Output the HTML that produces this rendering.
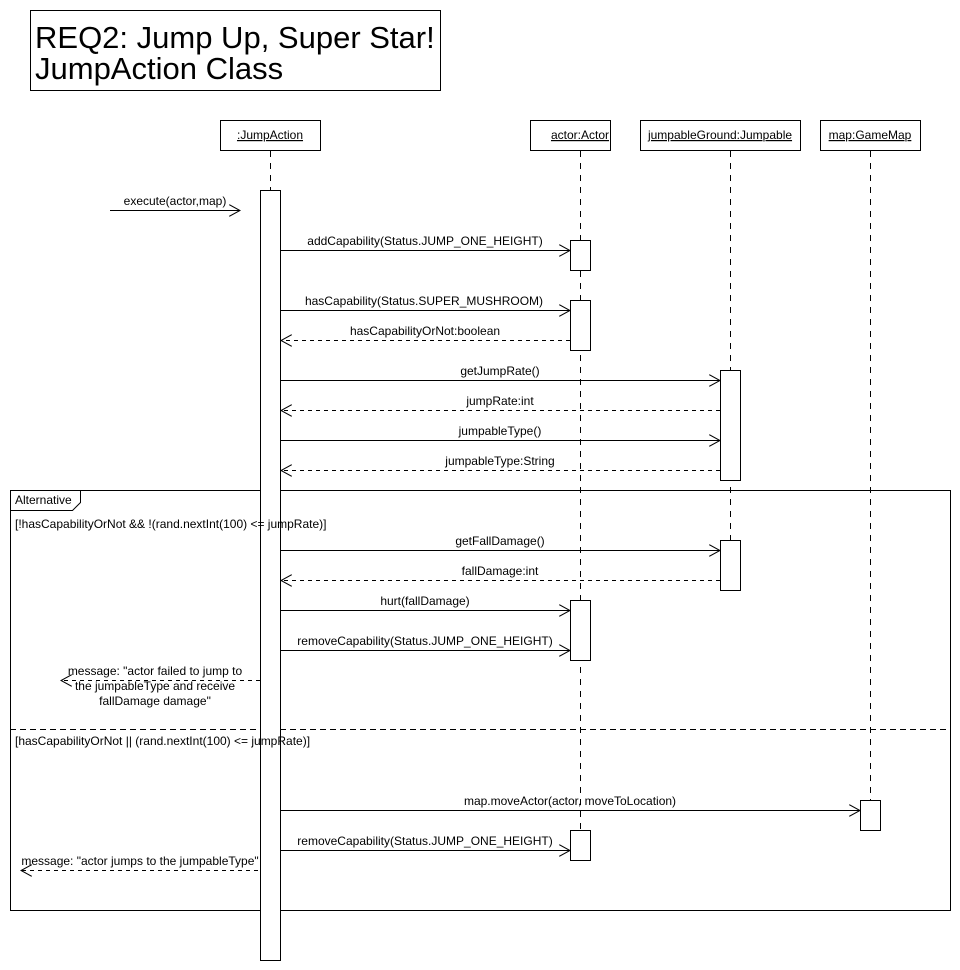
<!DOCTYPE html>
<html><head><style>body{margin:0;background:#fff}svg{display:block}text{font-family:"Liberation Sans",sans-serif;font-size:12px;fill:#000}</style></head><body>
<svg width="960" height="970" xmlns="http://www.w3.org/2000/svg">
<defs>
<marker id="o" markerWidth="12" markerHeight="12" refX="11" refY="6" orient="auto" markerUnits="userSpaceOnUse"><path d="M0,0 L11,6 L0,12" fill="none" stroke="#000"/></marker>
</defs>
<rect x="30.5" y="10.5" width="410" height="80" fill="#fff" stroke="#000"/>
<text x="35" y="48" style="font-size:31px">REQ2: Jump Up, Super Star!</text>
<text x="35" y="79" style="font-size:31px">JumpAction Class</text>
<g stroke="#000" fill="#fff">
<rect x="220.5" y="120.5" width="100" height="30"/>
<rect x="530.5" y="120.5" width="80" height="30"/>
<rect x="640.5" y="120.5" width="160" height="30"/>
<rect x="820.5" y="120.5" width="100" height="30"/>
</g>
<g stroke="#000" stroke-dasharray="6,6">
<line x1="270.5" y1="151" x2="270.5" y2="190"/>
<line x1="580.5" y1="151" x2="580.5" y2="860"/>
<line x1="730.5" y1="151" x2="730.5" y2="590"/>
<line x1="870.5" y1="151" x2="870.5" y2="800"/>
</g>
<g text-anchor="middle" text-decoration="underline">
<text x="270" y="139">:JumpAction</text>
<text x="580" y="139">actor:Actor</text>
<text x="720" y="139">jumpableGround:Jumpable</text>
<text x="870" y="139">map:GameMap</text>
</g>
<rect x="10.5" y="490.5" width="940" height="420" fill="none" stroke="#000"/>
<path d="M10.5,510.5 H72.5 L80.5,502.5 V490.5" fill="none" stroke="#000"/>
<line x1="10" y1="729.5" x2="950" y2="729.5" stroke="#000" stroke-dasharray="6,4"/>
<g stroke="#000" fill="#fff">
<rect x="260.5" y="190.5" width="20" height="770"/>
<rect x="570.5" y="240.5" width="20" height="30"/>
<rect x="570.5" y="300.5" width="20" height="50"/>
<rect x="570.5" y="600.5" width="20" height="60"/>
<rect x="570.5" y="830.5" width="20" height="30"/>
<rect x="720.5" y="370.5" width="20" height="110"/>
<rect x="720.5" y="540.5" width="20" height="50"/>
<rect x="860.5" y="800.5" width="20" height="30"/>
</g>
<text x="15" y="504">Alternative</text>
<text x="15" y="528">[!hasCapabilityOrNot &amp;&amp; !(rand.nextInt(100) &lt;= jumpRate)]</text>
<text x="15" y="745">[hasCapabilityOrNot || (rand.nextInt(100) &lt;= jumpRate)]</text>
<g stroke="#000" fill="none" marker-end="url(#o)">
<line x1="110" y1="210.5" x2="240" y2="210.5"/>
<line x1="281" y1="250.5" x2="570" y2="250.5"/>
<line x1="281" y1="310.5" x2="570" y2="310.5"/>
<line x1="570" y1="340.5" x2="281" y2="340.5" stroke-dasharray="4,4"/>
<line x1="281" y1="380.5" x2="720" y2="380.5"/>
<line x1="720" y1="410.5" x2="281" y2="410.5" stroke-dasharray="4,4"/>
<line x1="281" y1="440.5" x2="720" y2="440.5"/>
<line x1="720" y1="470.5" x2="281" y2="470.5" stroke-dasharray="4,4"/>
<line x1="281" y1="550.5" x2="720" y2="550.5"/>
<line x1="720" y1="580.5" x2="281" y2="580.5" stroke-dasharray="4,4"/>
<line x1="281" y1="610.5" x2="570" y2="610.5"/>
<line x1="281" y1="650.5" x2="570" y2="650.5"/>
<line x1="260" y1="680.5" x2="61" y2="680.5" stroke-dasharray="4,4"/>
<line x1="281" y1="810.5" x2="860" y2="810.5"/>
<line x1="281" y1="850.5" x2="570" y2="850.5"/>
<line x1="258" y1="870.5" x2="21" y2="870.5" stroke-dasharray="4,4"/>
</g>
<g text-anchor="middle">
<text x="175" y="205">execute(actor,map)</text>
<text x="425" y="245">addCapability(Status.JUMP_ONE_HEIGHT)</text>
<text x="424" y="305">hasCapability(Status.SUPER_MUSHROOM)</text>
<text x="425" y="335">hasCapabilityOrNot:boolean</text>
<text x="500" y="375">getJumpRate()</text>
<text x="500" y="405">jumpRate:int</text>
<text x="500" y="435">jumpableType()</text>
<text x="500" y="465">jumpableType:String</text>
<text x="500" y="545">getFallDamage()</text>
<text x="500" y="575">fallDamage:int</text>
<text x="425" y="605">hurt(fallDamage)</text>
<text x="425" y="645">removeCapability(Status.JUMP_ONE_HEIGHT)</text>
<text x="155" y="675">message: "actor failed to jump to</text>
<text x="155" y="690">the  jumpableType and receive</text>
<text x="155" y="705">fallDamage damage"</text>
<text x="570" y="805">map.moveActor(actor, moveToLocation)</text>
<text x="425" y="845">removeCapability(Status.JUMP_ONE_HEIGHT)</text>
<text x="140" y="865">message: "actor jumps to the jumpableType"</text>
</g>
</svg>
</body></html>
